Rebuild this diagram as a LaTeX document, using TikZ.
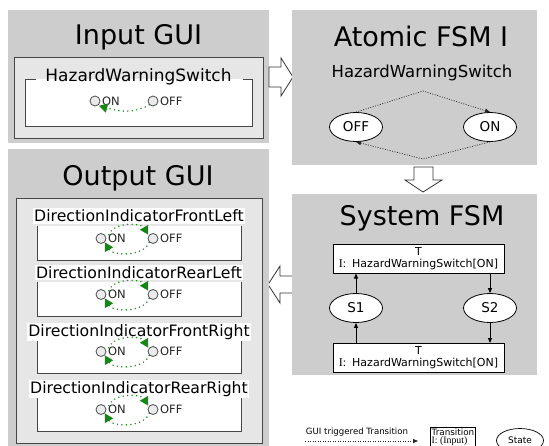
\documentclass[tikz,border=0pt]{standalone}
\usepackage{fontspec}
\setmainfont{DejaVu Sans}
\newfontfamily\serf{Liberation Serif}
\usetikzlibrary{arrows.meta,shapes.geometric,calc}
\definecolor{panelgray}{RGB}{205,205,205}
\definecolor{innergray}{RGB}{230,230,230}
\definecolor{boxedge}{RGB}{70,70,70}
\definecolor{garrow}{RGB}{20,135,20}
\newcommand\myradio[5]{%
  \node[radio] (#1on) at (#2,#4) {};
  \node[rtext,anchor=west] (#1ont) at ([xshift=1.5pt]#1on.east) {ON};
  \node[radio] (#1off) at (#3,#4) {};
  \node[rtext,anchor=west] (#1offt) at ([xshift=1.5pt]#1off.east) {OFF};
  \ifnum#5=1
    \draw[garc] ([xshift=4pt]#1on.north east) to[out=70,in=120,looseness=0.9] ([xshift=-1pt]#1off.north west);
    \draw[garc] (#1off.south west) to[out=-110,in=-60,looseness=0.9] (#1on.south east);
  \else
    \draw[garc] (#1off.south west) to[out=-150,in=-15] ([yshift=-1pt]#1on.south east);
  \fi
}
\newcommand\outgroup[4]{%
  \fill[white] (37,#3) rectangle (241,#3+34);
  \draw[boxline] (37,#3) -- (37,#3+34) -- (241,#3+34) -- (241,#3);
  \node[glabel, fill=white] (#1lab) at (139,#2) {#4};
  \myradio{#1}{101}{153}{#3+12.5}{1}
}
\begin{document}
\begin{tikzpicture}[x=1pt,y=-1pt,
 innerbox/.style={fill=innergray, draw=boxedge, line width=0.8pt},
 boxline/.style={draw=boxedge, line width=0.8pt},
 title/.style={font=\fontsize{27}{29}\selectfont, inner sep=0pt},
 glabel/.style={font=\fontsize{15.7}{17}\selectfont, inner sep=1.5pt},
 radio/.style={circle, draw=black!70, fill=white!92!black, line width=0.8pt, minimum size=10pt, inner sep=0pt},
 rtext/.style={font=\fontsize{11.5}{12}\selectfont, inner sep=0pt, text=black!85},
 garc/.style={draw=garrow, line width=1.6pt, line cap=round, dash pattern=on 0pt off 4.5pt, -{Triangle[length=8.5pt,width=9pt]}},
 hollow/.style={draw=black!80, fill=white, line width=0.8pt, line join=miter},
 fsmstate/.style={ellipse, draw=black, fill=white, line width=0.8pt, minimum width=53pt, minimum height=29pt, inner sep=0pt, font=\fontsize{13.5}{14}\selectfont},
 trans/.style={rectangle, draw=black, fill=white, line width=1pt, minimum width=171pt, minimum height=29pt, inner sep=0pt, align=center, font=\fontsize{11}{12}\selectfont},
 edge/.style={draw=black, line width=0.8pt, -{Triangle[length=5pt,width=4pt]}},
 dotedge/.style={draw=black!85, line width=0.7pt, dash pattern=on 1pt off 1.5pt, -{Triangle[length=5pt,width=4pt]}},
]
\useasboundingbox (0,0) rectangle (549,445);
\clip (0,0) rectangle (549,445);
\fill[white] (0,0) rectangle (549,445);

% ---------- Input GUI ----------
\fill[panelgray] (8,10) rectangle (269,143);
\node[title] (tin) at (138.5,37) {Input GUI};
\draw[innerbox] (14,57) rectangle (263,138);
\fill[white] (25,79) rectangle (252,126);
\draw[boxline] (36,79) -- (25,79) -- (25,126) -- (252,126) -- (252,79) -- (243,79);
\node[glabel, font=\fontsize{17}{18}\selectfont] (inlab) at (138.5,77) {HazardWarningSwitch};
\myradio{in}{95}{153}{101}{0}

% arrow Input -> Atomic
\draw[hollow] (269,67) -- (281,67) -- (281,58) -- (293,77) -- (281,96) -- (281,87) -- (269,87) -- cycle;

% ---------- Atomic FSM I ----------
\fill[panelgray] (292,10) rectangle (537,165);
\node[title] (tat) at (421,36.5) {Atomic FSM I};
\node[font=\fontsize{16.5}{17}\selectfont, inner sep=0pt] (atname) at (422,72.5) {HazardWarningSwitch};
\node[fsmstate] (aoff) at (356,127) {OFF};
\node[fsmstate] (aon) at (490,127) {ON};
\coordinate (atop) at (423,91);
\coordinate (abot) at (423,159);
\draw[dotedge] (aoff.north) -- (atop) -- (aon.north);
\draw[dotedge] (aon.south) -- (abot) -- (aoff.south);

% arrow Atomic -> System
\draw[hollow] (414,167) -- (433,167) -- (433,180) -- (442,180) -- (423,192) -- (405,180) -- (414,180) -- cycle;

% arrow System -> Output
\draw[hollow] (293,276) -- (280,276) -- (280,266) -- (268,284.5) -- (280,303) -- (280,293) -- (293,293) -- cycle;

% ---------- System FSM ----------
\fill[panelgray] (292,194) rectangle (537,375);
\node[title] (tsys) at (422,218) {System FSM};
\node[trans] (ttop) at (418.5,258.5) {T\\{\serf\fontsize{12}{12}\selectfont I:}\hspace{6pt}HazardWarningSwitch[ON]};
\node[trans] (tbot) at (418.5,358) {T\\{\serf\fontsize{12}{12}\selectfont I:}\hspace{6pt}HazardWarningSwitch[ON]};
\node[fsmstate] (s1) at (356,308) {S1};
\node[fsmstate] (s2) at (490,308) {S2};
\draw[edge] (s1.north) -- (s1.north |- ttop.south);
\draw[edge] (ttop.south -| s2.north) -- (s2.north);
\draw[edge] (s2.south) -- (s2.south |- tbot.north);
\draw[edge] (tbot.north -| s1.south) -- (s1.south);

% ---------- Output GUI ----------
\fill[panelgray] (8,149) rectangle (269,446);
\node[title] (tout) at (138,178) {Output GUI};
\draw[innerbox] (16,198) rectangle (262,443);
\outgroup{fl}{216}{226}{DirectionIndicatorFrontLeft}
\outgroup{rl}{272.5}{282}{DirectionIndicatorRearLeft}
\outgroup{fr}{332}{339}{DirectionIndicatorFrontRight}
\outgroup{rr}{389}{397}{DirectionIndicatorRearRight}

% ---------- Legend ----------
\node[font=\fontsize{8.6}{9}\selectfont, inner sep=0pt] (lgtxt) at (357,432) {GUI triggered Transition};
\coordinate (lgs) at (305,441);
\coordinate (lge) at (418,441);
\draw[dotedge] (lgs) -- (lge);
\node[draw=black, fill=white, line width=0.7pt, align=left, anchor=north, inner sep=1.5pt, font=\fontsize{8.8}{8.3}\selectfont] (lgtr) at (453,426.5) {Transition\\{\serf\fontsize{9.8}{8.3}\selectfont I: (Input)}};
\node[ellipse, draw=black, line width=0.7pt, fill=white, minimum width=47pt, minimum height=24pt, inner sep=0pt, font=\fontsize{9}{10}\selectfont] (lgst) at (520,440.5) {State};
\end{tikzpicture}
\end{document}
